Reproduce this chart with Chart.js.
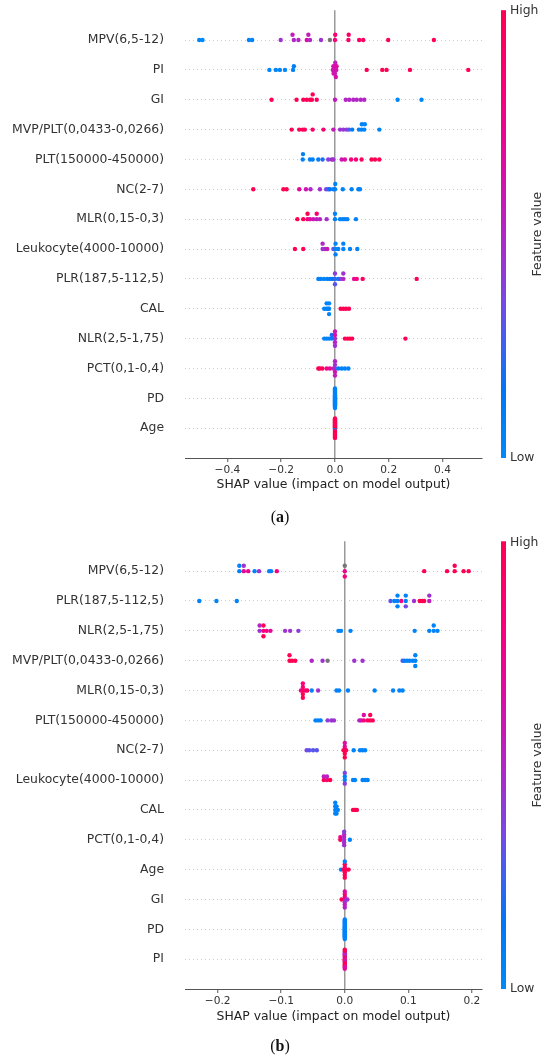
<!DOCTYPE html>
<html>
<head>
<meta charset="utf-8">
<script src="https://cdn.jsdelivr.net/npm/chart.js@4.4.1/dist/chart.umd.min.js"></script>
<style>
  body { margin: 0; background: #fff; }
  #wrap { position: relative; width: 550px; height: 1062px; overflow: hidden; }
  canvas { position: absolute; left: 0; }
  .cap { position: absolute; left: 0; width: 560px; text-align: center;
         font: 16px "Liberation Serif", "DejaVu Serif", serif; color: #111; }
</style>
</head>
<body>
<div id="wrap">
  <canvas id="chartA" width="550" height="530" style="top:0"></canvas>
  <div class="cap" style="top:508px">(<b>a</b>)</div>
  <canvas id="chartB" width="550" height="532" style="top:530px"></canvas>
  <div class="cap" style="top:1037px">(<b>b</b>)</div>
</div>
<script>
// nomes das variaveis (de cima para baixo)
const featuresA = ['MPV(6,5-12)', 'PI', 'GI', 'MVP/PLT(0,0433-0,0266)', 'PLT(150000-450000)', 'NC(2-7)',
  'MLR(0,15-0,3)', 'Leukocyte(4000-10000)', 'PLR(187,5-112,5)', 'CAL', 'NLR(2,5-1,75)', 'PCT(0,1-0,4)', 'PD', 'Age'];
const featuresB = ['MPV(6,5-12)', 'PLR(187,5-112,5)', 'NLR(2,5-1,75)', 'MVP/PLT(0,0433-0,0266)', 'MLR(0,15-0,3)',
  'PLT(150000-450000)', 'NC(2-7)', 'Leukocyte(4000-10000)', 'CAL', 'PCT(0,1-0,4)', 'Age', 'GI', 'PD', 'PI'];

const ticksA = [-0.4, -0.2, 0, 0.2, 0.4];
const ticksB = [-0.2, -0.1, 0, 0.1, 0.2];

// cada ponto: [valor SHAP, valor da variavel 0..1 (null = sem valor)]
const a_MPV = [[-0.505,0.02],[-0.493,0.02],[-0.320,0.05],[-0.308,0.05],[-0.202,0.45],[-0.153,0.5],[-0.158,0.55],
  [-0.136,0.5],[-0.105,0.65],[-0.093,0.5],[-0.099,0.55],[-0.052,0.45],[-0.019,null],[0,0.8],[0.001,0.85],
  [0.050,0.9],[0.051,0.95],[0.090,0.9],[0.105,0.95],[0.198,1],[0.368,1]];
const a_PI = [[-0.244,0.03],[-0.220,0.03],[-0.205,0.03],[-0.186,0.03],[-0.156,0.05],[-0.153,0.08],
  [-0.008,0.6],[-0.006,0.62],[-0.005,0.58],[-0.003,0.6],[-0.001,0.65],[0,0.6],[0.001,0.55],[0.003,0.62],
  [0.005,0.6],[0.006,0.65],[0.118,1],[0.176,1],[0.192,1],[0.279,1],[0.496,1]];
const a_GI = [[-0.236,1],[-0.143,1],[-0.118,0.95],[-0.105,1],[-0.093,0.95],[-0.086,1],[-0.083,1],[-0.068,0.95],
  [0,0.55],[0.040,0.5],[0.053,0.5],[0.068,0.5],[0.081,0.5],[0.096,0.5],[0.109,0.5],[0.233,0.03],[0.322,0.03]];
const a_MVP = [[-0.161,1],[-0.133,1],[-0.120,0.95],[-0.112,0.95],[-0.083,0.9],[-0.043,0.85],[-0.006,0.55],
  [0.019,0.45],[0.031,0.42],[0.043,0.4],[0.052,0.3],[0.064,0.1],[0.089,0.05],[0.099,0.05],[0.100,0.05],
  [0.109,0.05],[0.111,0.05],[0.165,0.05]];
const a_PLT = [[-0.120,0.05],[-0.119,0.05],[-0.093,0.05],[-0.083,0.08],[-0.062,0.1],[-0.046,0.2],[-0.025,0.4],
  [-0.012,0.45],[-0.006,0.45],[0.025,0.6],[0.037,0.65],[0.060,0.8],[0.078,0.85],[0.099,0.95],[0.136,1],
  [0.149,1],[0.165,1]];
const a_NC = [[-0.304,1],[-0.192,1],[-0.180,1],[-0.133,0.7],[-0.108,0.6],[-0.091,0.5],[-0.056,0.45],[-0.033,0.35],
  [-0.025,0.3],[-0.019,0.15],[-0.006,0.1],[0,0.05],[0.001,0.05],[0.029,0.05],[0.062,0.05],[0.087,0.05],[0.093,0.05]];
const a_MLR = [[-0.140,1],[-0.118,1],[-0.102,0.85],[-0.102,1],[-0.093,0.65],[-0.081,0.6],[-0.068,0.55],[-0.068,0.85],
  [-0.056,0.5],[-0.031,0.45],[0,0.05],[0,0.05],[0.019,0.05],[0.029,0.05],[0.037,0.05],[0.046,0.05],[0.078,0.05]];
const a_Leuk = [[-0.149,1],[-0.118,1],[-0.046,0.45],[-0.046,0.5],[-0.037,0.45],[-0.029,0.6],[-0.006,0.3],
  [0.002,0.05],[0.002,0.05],[0.002,0.1],[0.012,0.05],[0.031,0.05],[0.031,0.05],[0.056,0.05],[0.083,0.05]];
const a_PLR = [[-0.062,0.05],[-0.053,0.05],[-0.041,0.05],[-0.029,0.1],[-0.019,0.1],[-0.009,0.15],[0,0.25],[0,0.4],
  [0,0.3],[0.012,0.1],[0.021,0.4],[0.031,0.5],[0.031,0.45],[0.071,0.7],[0.081,0.8],[0.103,0.95],[0.304,1]];
const a_CAL = [[-0.040,0.05],[-0.031,0.05],[-0.031,0.05],[-0.026,0.05],[-0.022,0.05],[-0.022,0.05],[-0.022,0.05],
  [0.021,1],[0.031,1],[0.041,1],[0.052,1]];
const a_NLR = [[-0.040,0.05],[-0.031,0.05],[-0.022,0.05],[-0.012,0.1],[-0.012,0.2],[0,0.45],[0,0.65],[0,0.5],
  [0,0.6],[0,0.45],[0.037,1],[0.047,1],[0.056,1],[0.064,1],[0.262,1]];
const a_PCT = [[-0.062,1],[-0.056,1],[-0.047,0.95],[-0.031,0.8],[-0.019,0.7],[-0.006,0.5],[0,0.5],[0,0.45],
  [0,0.6],[0,0.5],[0,0.55],[0.012,0.1],[0.025,0.05],[0.037,0.05],[0.050,0.05]];
const a_PD = [[0,0.05],[0,0.05],[0,0.05],[0,0.05],[0,0.05],[0,0.05],[0,0.05],[0,0.05],[0,0.05],[0,0.05],[0,0.05],
  [0,0.05],[0,0.05],[0,0.05],[0,0.05],[0,0.05],[0,0.05],[0,0.05],[0,0.05],[0,0.05],[0,0.05]];
const a_Age = [[0,0.1],[0,1],[0,1],[0,1],[0,0.1],[0,1],[0,1],[0,1],[0,1],[0,0.9],[0,1],[0,1],[0,1],[0,1],[0,1],
  [0,1],[0,1],[0,1],[0,1],[0,1],[0,1]];

const b_MPV = [[-0.166,0.05],[-0.166,0.05],[-0.159,0.7],[-0.159,0.45],[-0.152,0.75],[-0.142,0.05],[-0.135,0.45],
  [-0.119,0.05],[-0.116,0.05],[-0.107,0.8],[0,0.75],[0,null],[0,0.8],[0.125,1],[0.161,1],[0.173,1],[0.173,1],
  [0.187,1],[0.195,1]];
const b_PLR = [[-0.229,0.05],[-0.202,0.05],[-0.170,0.05],[0.072,0.3],[0.078,0.05],[0.083,0.05],[0.083,0.05],
  [0.083,0.05],[0.089,0.8],[0.096,0.05],[0.096,0.05],[0.096,0.35],[0.109,0.45],[0.118,1],[0.122,1],[0.125,1],
  [0.133,0.55],[0.133,0.45]];
const b_NLR = [[-0.134,0.45],[-0.134,0.5],[-0.128,0.8],[-0.128,1],[-0.128,1],[-0.123,0.8],[-0.117,0.7],
  [-0.094,0.45],[-0.086,0.45],[-0.073,0.4],[-0.010,0.05],[-0.006,0.05],[0.009,0.05],[0.110,0.05],[0.133,0.05],
  [0.140,0.05],[0.140,0.05],[0.146,0.05]];
const b_MVP = [[-0.087,1],[-0.087,1],[-0.083,1],[-0.078,1],[-0.052,0.5],[-0.035,0.45],[-0.027,null],[0.015,0.45],
  [0.028,0.45],[0.091,0.3],[0.094,0.05],[0.098,0.05],[0.102,0.05],[0.107,0.05],[0.111,0.05],[0.111,0.05],[0.111,0.05]];
const b_MLR = [[-0.069,0.7],[-0.066,1],[-0.066,0.85],[-0.066,1],[-0.066,0.8],[-0.066,1],[-0.062,0.85],[-0.059,0.95],
  [-0.052,0.05],[-0.042,0.45],[-0.013,0.05],[-0.009,0.05],[0.005,0.05],[0.047,0.05],[0.076,0.05],[0.086,0.05],[0.091,0.05]];
const b_PLT = [[-0.046,0.05],[-0.042,0.05],[-0.038,0.05],[-0.027,0.4],[-0.021,0.45],[-0.017,0.45],[0.023,0.5],
  [0.026,0.6],[0.030,0.8],[0.030,0.65],[0.036,0.9],[0.040,1],[0.040,1],[0.044,1]];
const b_NC = [[-0.060,0.35],[-0.056,0.3],[-0.050,0.3],[-0.044,0.3],[-0.002,1],[0,0.9],[0,0.7],[0,1],[0,0.65],
  [0,1],[0.002,1],[0.014,0.05],[0.024,0.05],[0.028,0.05],[0.032,0.05]];
const b_Leuk = [[-0.033,1],[-0.033,0.55],[-0.028,0.85],[-0.028,0.5],[-0.023,1],[0,0.05],[0,0.05],[0,0.4],[0,0.35],
  [0.013,0.05],[0.016,0.05],[0.028,0.05],[0.032,0.05],[0.036,0.05]];
const b_CAL = [[-0.015,0.05],[-0.015,0.05],[-0.015,0.05],[-0.015,0.05],[-0.013,0.05],[-0.013,0.05],[-0.013,0.05],
  [-0.011,0.05],[0.013,1],[0.015,1],[0.017,1],[0.019,1]];
const b_PCT = [[-0.007,1],[-0.007,0.75],[-0.001,0.45],[-0.001,0.5],[-0.001,0.45],[-0.001,0.5],[-0.001,0.45],
  [-0.001,0.4],[0.008,0.05]];
const b_Age = [[-0.006,0.05],[-0.002,1],[0,1],[0,0.85],[0,1],[0,1],[0,0.95],[0,0.05],[0,1],[0.002,1],[0.006,1]];
const b_GI = [[-0.005,1],[0,0.5],[0,0.7],[0,0.45],[0,0.9],[0,0.55],[0,0.65],[0,0.5],[0.004,0.45]];
const b_PD = [[0,0.05],[0,0.05],[0,0.05],[0,0.05],[0,0.05],[0,0.05],[0,0.05],[0,0.05],[0,0.05],[0,0.05],[0,0.05],
  [0,0.05],[0,0.05],[0,0.05],[0,0.05],[0,0.05],[0,0.05],[0,0.05],[0,0.05],[0,0.05],[0,0.05]];
const b_PI = [[0,1],[0,0.5],[0,1],[0,0.7],[0,0.45],[0,1],[0,0.9],[0,0.5],[0,1],[0,0.6],[0,1],[0,0.45],[0,0.85],
  [0,1],[0,0.55],[0,1],[0,0.7]];

const rowsA = [a_MPV, a_PI, a_GI, a_MVP, a_PLT, a_NC, a_MLR, a_Leuk, a_PLR, a_CAL, a_NLR, a_PCT, a_PD, a_Age];
const rowsB = [b_MPV, b_PLR, b_NLR, b_MVP, b_MLR, b_PLT, b_NC, b_Leuk, b_CAL, b_PCT, b_Age, b_GI, b_PD, b_PI];

// mapa de cores azul -> roxo -> vermelho
const cmapStops = [[0, 0, 138, 250], [0.15, 0, 118, 245], [0.25, 60, 98, 240], [0.35, 120, 72, 228],
  [0.5, 178, 38, 198], [0.65, 220, 12, 165], [0.8, 248, 0, 126], [1, 255, 0, 82]];

function cmap(t) {
  if (t === null) return '#777777';
  for (let i = 1; i < cmapStops.length; i++) {
    const a = cmapStops[i - 1], b = cmapStops[i];
    if (t <= b[0]) {
      const f = (t - a[0]) / (b[0] - a[0]);
      const c = [1, 2, 3].map(k => Math.round(a[k] + f * (b[k] - a[k])));
      return `rgb(${c.join(',')})`;
    }
  }
  return 'rgb(255,0,82)';
}

// empilhamento tipo beeswarm (mesma ideia do shap)
function swarm(vals) {
  const nbins = 100;
  const mn = Math.min(...vals), mx = Math.max(...vals);
  const q = vals.map(v => Math.round(nbins * (v - mn) / (mx - mn + 1e-8)));
  const idx = vals.map((_, i) => i).sort((i, j) => q[i] - q[j] || i - j);
  const ys = new Array(vals.length).fill(0);
  let layer = 0, last = -1;
  for (const i of idx) {
    if (q[i] !== last) layer = 0;
    ys[i] = Math.ceil(layer / 2) * ((layer % 2) * 2 - 1);
    layer++;
    last = q[i];
  }
  const m = Math.max(...ys.map(y => y + 1));
  return ys.map(y => y * 0.9 * (0.4 / m));
}

const FONT = 'DejaVu Sans';

const colorBar = {
  id: 'colorBar',
  afterDraw(chart) {
    const { ctx, chartArea: a } = chart;
    const x = a.right + 19, w = 5;
    const g = ctx.createLinearGradient(0, a.bottom, 0, a.top);
    cmapStops.forEach(s => g.addColorStop(s[0], `rgb(${s[1]},${s[2]},${s[3]})`));
    ctx.save();
    ctx.fillStyle = g;
    ctx.fillRect(x, a.top, w, a.bottom - a.top);
    ctx.fillStyle = '#333';
    ctx.font = `12.4px "${FONT}"`;
    ctx.textBaseline = 'middle';
    ctx.textAlign = 'left';
    ctx.fillText('High', x + w + 4, a.top + 1);
    ctx.fillText('Low', x + w + 4, a.bottom);
    ctx.translate(x + 37, (a.top + a.bottom) / 2);
    ctx.rotate(-Math.PI / 2);
    ctx.textAlign = 'center';
    ctx.fillText('Feature value', 0, 0);
    ctx.restore();
  }
};

function desenhar(id, features, rows, ticks, xmin, xmax, padTop, axisH, titlePad) {
  const n = features.length;
  const pontos = [], cores = [];
  rows.forEach((row, i) => {
    const pos = n - 1 - i;
    const off = swarm(row.map(p => p[0]));
    row.forEach((p, j) => {
      pontos.push({ x: p[0], y: pos + off[j] });
      cores.push(cmap(p[1]));
    });
  });
  const linhas = features.map((_, i) => i);

  return new Chart(document.getElementById(id), {
    type: 'scatter',
    data: {
      datasets: [{
        data: pontos,
        backgroundColor: cores,
        borderWidth: 0,
        pointRadius: 2.2,
        pointHoverRadius: 2.2
      }]
    },
    options: {
      responsive: false,
      animation: false,
      events: [],
      layout: { padding: { top: padTop, right: 68, left: 0, bottom: 0 } },
      plugins: { legend: { display: false }, tooltip: { enabled: false } },
      scales: {
        x: {
          type: 'linear',
          min: xmin,
          max: xmax,
          afterBuildTicks: axis => { axis.ticks = ticks.map(v => ({ value: v })); },
          afterFit: axis => { axis.height = axisH; axis.paddingLeft = 0; axis.paddingRight = 0; },
          ticks: {
            color: '#333',
            font: { family: FONT, size: 10.6 },
            padding: 2,
            maxRotation: 0,
            callback: v => (v < 0 ? '\u2212' : '') + Math.abs(v).toFixed(1)
          },
          grid: {
            color: c => (c.tick && c.tick.value === 0) ? '#999999' : 'rgba(0,0,0,0)',
            lineWidth: 1.5,
            tickColor: '#555',
            tickWidth: 1,
            tickLength: 4
          },
          border: { display: true, color: '#555', width: 1 },
          title: {
            display: true,
            text: 'SHAP value (impact on model output)',
            color: '#222',
            font: { family: FONT, size: 12.4 },
            padding: { top: 0, bottom: titlePad }
          }
        },
        y: {
          type: 'linear',
          min: -1,
          max: n,
          afterBuildTicks: axis => { axis.ticks = linhas.map(v => ({ value: v })); },
          afterFit: axis => { axis.width = 185; axis.paddingTop = 0; axis.paddingBottom = 0; },
          ticks: {
            color: '#333',
            font: { family: FONT, size: 12.4 },
            padding: 21,
            callback: v => features[n - 1 - v]
          },
          grid: { color: '#cccccc', lineWidth: 1, drawTicks: false },
          border: { display: false, dash: [1, 3] }
        }
      }
    },
    plugins: [colorBar]
  });
}

desenhar('chartA', featuresA, rowsA, ticksA, -0.558, 0.547, 10.2, 72, 37.5);
desenhar('chartB', featuresB, rowsB, ticksB, -0.2515, 0.216, 11.3, 73, 37.9);
</script>
</body>
</html>
